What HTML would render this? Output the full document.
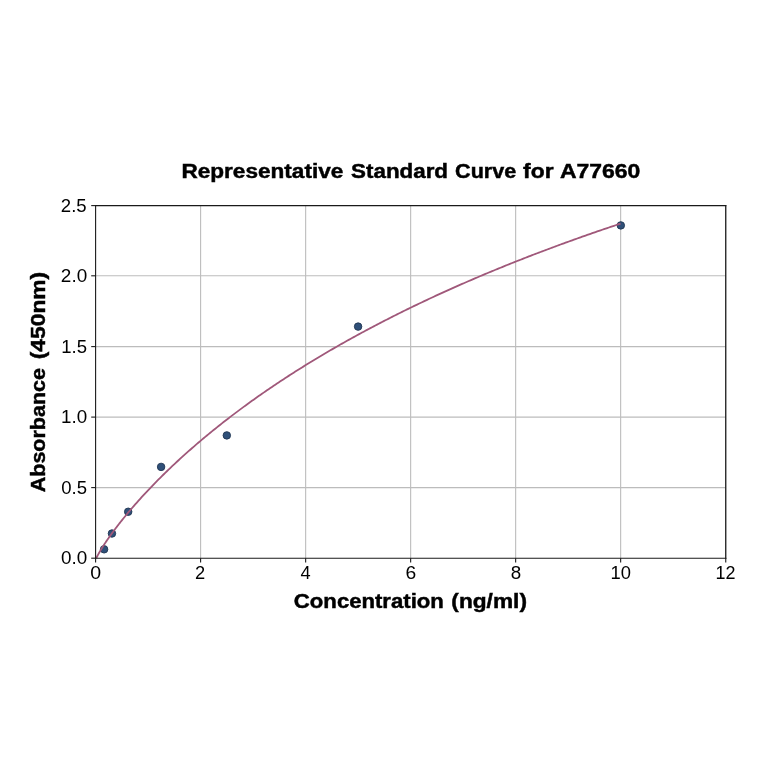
<!DOCTYPE html>
<html><head><meta charset="utf-8"><style>
html,body{margin:0;padding:0;background:#fff;}
svg{display:block;will-change:transform;}
text{font-family:"Liberation Sans",sans-serif;fill:#000;}
.g{stroke:#bcbcbc;stroke-width:1.1;}
.s{stroke:#1a1a1a;stroke-width:1.1;}
.sr{stroke-width:1.3;}
.t{stroke:#1a1a1a;stroke-width:1.1;}
.m{fill:#2f5079;stroke:#203552;stroke-width:0.9;}
.c{fill:none;stroke:#a0587a;stroke-width:1.8;}
.tk{font-size:17.6px;}
.ti{font-size:19.6px;font-weight:bold;stroke:#000;stroke-width:0.45px;}
.lb{font-size:19.6px;font-weight:bold;stroke:#000;stroke-width:0.45px;}
</style></head><body>
<svg width="764" height="764" viewBox="0 0 764 764">
<defs><clipPath id="ax"><rect x="95.6" y="205.64999999999998" width="630.0" height="352.5"/></clipPath></defs>
<rect width="764" height="764" fill="#fff"/>
<line x1="200.6" y1="205.64999999999998" x2="200.6" y2="558.15" class="g"/>
<line x1="305.65" y1="205.64999999999998" x2="305.65" y2="558.15" class="g"/>
<line x1="410.65" y1="205.64999999999998" x2="410.65" y2="558.15" class="g"/>
<line x1="515.65" y1="205.64999999999998" x2="515.65" y2="558.15" class="g"/>
<line x1="620.65" y1="205.64999999999998" x2="620.65" y2="558.15" class="g"/>
<line x1="95.6" y1="487.6" x2="725.6" y2="487.6" class="g"/>
<line x1="95.6" y1="417.1" x2="725.6" y2="417.1" class="g"/>
<line x1="95.6" y1="346.6" x2="725.6" y2="346.6" class="g"/>
<line x1="95.6" y1="275.8" x2="725.6" y2="275.8" class="g"/>
<circle cx="104.1" cy="549.3" r="3.75" class="m"/>
<circle cx="111.95" cy="533.5" r="3.75" class="m"/>
<circle cx="128.2" cy="511.75" r="3.75" class="m"/>
<circle cx="161.1" cy="466.9" r="3.75" class="m"/>
<circle cx="226.8" cy="435.4" r="3.75" class="m"/>
<circle cx="358.1" cy="326.6" r="3.75" class="m"/>
<circle cx="620.8" cy="225.4" r="3.75" class="m"/>
<path d="M95.60,559.97 L96.04,558.77 L96.49,557.79 L96.93,556.87 L97.38,555.99 L97.82,555.14 L98.27,554.32 L98.71,553.51 L99.16,552.73 L99.60,551.95 L100.05,551.19 L100.49,550.44 L100.94,549.70 L101.38,548.97 L101.83,548.24 L102.27,547.53 L102.72,546.82 L103.16,546.12 L103.61,545.43 L104.05,544.74 L104.50,544.06 L104.94,543.38 L105.39,542.71 L105.83,542.04 L106.28,541.38 L106.72,540.72 L107.17,540.07 L107.61,539.42 L108.06,538.78 L108.50,538.14 L108.95,537.50 L109.39,536.87 L109.84,536.24 L110.28,535.61 L110.73,534.99 L111.17,534.37 L111.62,533.76 L112.06,533.15 L112.51,532.54 L112.95,531.93 L113.40,531.33 L113.84,530.73 L114.29,530.13 L114.73,529.53 L115.18,528.94 L115.62,528.35 L116.07,527.76 L116.51,527.18 L116.96,526.60 L117.40,526.02 L117.85,525.44 L118.29,524.86 L118.74,524.29 L119.18,523.72 L119.63,523.15 L120.07,522.59 L120.52,522.02 L120.96,521.46 L121.41,520.90 L121.85,520.34 L123.52,518.27 L125.19,516.22 L126.85,514.20 L128.52,512.20 L130.19,510.23 L131.86,508.27 L133.53,506.34 L135.19,504.43 L136.86,502.54 L138.53,500.67 L140.20,498.81 L141.87,496.98 L143.53,495.16 L145.20,493.36 L146.87,491.57 L148.54,489.80 L150.21,488.04 L151.88,486.30 L153.54,484.58 L155.21,482.87 L156.88,481.17 L158.55,479.49 L160.22,477.81 L161.88,476.16 L163.55,474.51 L165.22,472.88 L166.89,471.26 L168.56,469.65 L170.22,468.05 L171.89,466.47 L173.56,464.89 L175.23,463.33 L176.90,461.78 L178.56,460.24 L180.23,458.70 L181.90,457.18 L183.57,455.67 L185.24,454.17 L186.90,452.68 L188.57,451.20 L190.24,449.73 L191.91,448.26 L193.58,446.81 L195.24,445.37 L196.91,443.93 L198.58,442.50 L200.25,441.08 L201.92,439.67 L203.58,438.27 L205.25,436.88 L206.92,435.49 L208.59,434.12 L210.26,432.75 L211.93,431.39 L213.59,430.03 L215.26,428.69 L216.93,427.35 L218.60,426.02 L220.27,424.70 L221.93,423.38 L223.60,422.07 L225.27,420.77 L226.94,419.48 L228.61,418.19 L230.27,416.91 L231.94,415.63 L233.61,414.37 L235.28,413.11 L236.95,411.85 L238.61,410.60 L240.28,409.36 L241.95,408.13 L243.62,406.90 L245.29,405.68 L246.95,404.46 L248.62,403.25 L250.29,402.05 L251.96,400.85 L253.63,399.65 L255.29,398.47 L256.96,397.29 L258.63,396.11 L260.30,394.94 L261.97,393.78 L263.64,392.62 L265.30,391.47 L266.97,390.32 L268.64,389.18 L270.31,388.04 L271.98,386.91 L273.64,385.79 L275.31,384.67 L276.98,383.55 L278.65,382.44 L280.32,381.33 L281.98,380.23 L283.65,379.14 L285.32,378.05 L286.99,376.96 L288.66,375.88 L290.32,374.81 L291.99,373.73 L293.66,372.67 L295.33,371.61 L297.00,370.55 L298.66,369.50 L300.33,368.45 L302.00,367.40 L303.67,366.37 L305.34,365.33 L307.00,364.30 L308.67,363.28 L310.34,362.25 L312.01,361.24 L313.68,360.22 L315.34,359.21 L317.01,358.21 L318.68,357.21 L320.35,356.21 L322.02,355.22 L323.69,354.23 L325.35,353.25 L327.02,352.27 L328.69,351.29 L330.36,350.32 L332.03,349.35 L333.69,348.39 L335.36,347.43 L337.03,346.47 L338.70,345.52 L340.37,344.57 L342.03,343.63 L343.70,342.68 L345.37,341.75 L347.04,340.81 L348.71,339.88 L350.37,338.95 L352.04,338.03 L353.71,337.11 L355.38,336.20 L357.05,335.28 L358.71,334.37 L360.38,333.47 L362.05,332.57 L363.72,331.67 L365.39,330.77 L367.05,329.88 L368.72,328.99 L370.39,328.10 L372.06,327.22 L373.73,326.34 L375.40,325.47 L377.06,324.59 L378.73,323.73 L380.40,322.86 L382.07,322.00 L383.74,321.14 L385.40,320.28 L387.07,319.43 L388.74,318.58 L390.41,317.73 L392.08,316.88 L393.74,316.04 L395.41,315.21 L397.08,314.37 L398.75,313.54 L400.42,312.71 L402.08,311.88 L403.75,311.06 L405.42,310.24 L407.09,309.42 L408.76,308.61 L410.42,307.79 L412.09,306.98 L413.76,306.18 L415.43,305.37 L417.10,304.57 L418.76,303.78 L420.43,302.98 L422.10,302.19 L423.77,301.40 L425.44,300.61 L427.11,299.83 L428.77,299.04 L430.44,298.26 L432.11,297.49 L433.78,296.71 L435.45,295.94 L437.11,295.17 L438.78,294.41 L440.45,293.64 L442.12,292.88 L443.79,292.12 L445.45,291.37 L447.12,290.61 L448.79,289.86 L450.46,289.11 L452.13,288.37 L453.79,287.62 L455.46,286.88 L457.13,286.14 L458.80,285.41 L460.47,284.67 L462.13,283.94 L463.80,283.21 L465.47,282.48 L467.14,281.76 L468.81,281.03 L470.47,280.31 L472.14,279.60 L473.81,278.88 L475.48,278.17 L477.15,277.46 L478.81,276.75 L480.48,276.04 L482.15,275.34 L483.82,274.63 L485.49,273.93 L487.16,273.24 L488.82,272.54 L490.49,271.85 L492.16,271.15 L493.83,270.46 L495.50,269.78 L497.16,269.09 L498.83,268.41 L500.50,267.73 L502.17,267.05 L503.84,266.37 L505.50,265.70 L507.17,265.03 L508.84,264.35 L510.51,263.69 L512.18,263.02 L513.84,262.35 L515.51,261.69 L517.18,261.03 L518.85,260.37 L520.52,259.72 L522.18,259.06 L523.85,258.41 L525.52,257.76 L527.19,257.11 L528.86,256.46 L530.52,255.82 L532.19,255.17 L533.86,254.53 L535.53,253.89 L537.20,253.25 L538.87,252.62 L540.53,251.98 L542.20,251.35 L543.87,250.72 L545.54,250.09 L547.21,249.47 L548.87,248.84 L550.54,248.22 L552.21,247.60 L553.88,246.98 L555.55,246.36 L557.21,245.74 L558.88,245.13 L560.55,244.52 L562.22,243.91 L563.89,243.30 L565.55,242.69 L567.22,242.08 L568.89,241.48 L570.56,240.88 L572.23,240.28 L573.89,239.68 L575.56,239.08 L577.23,238.49 L578.90,237.89 L580.57,237.30 L582.23,236.71 L583.90,236.12 L585.57,235.53 L587.24,234.95 L588.91,234.36 L590.57,233.78 L592.24,233.20 L593.91,232.62 L595.58,232.04 L597.25,231.47 L598.92,230.89 L600.58,230.32 L602.25,229.75 L603.92,229.18 L605.59,228.61 L607.26,228.04 L608.92,227.48 L610.59,226.91 L612.26,226.35 L613.93,225.79 L615.60,225.23 L617.26,224.67 L618.93,224.11 L620.60,223.56" class="c" clip-path="url(#ax)"/>
<line x1="95.0" y1="205.6" x2="726.3000000000001" y2="205.6" class="s"/>
<line x1="95.0" y1="558.2" x2="726.3000000000001" y2="558.2" class="s"/>
<line x1="95.6" y1="205.05" x2="95.6" y2="558.8" class="s"/>
<line x1="725.75" y1="205.05" x2="725.75" y2="558.8" class="s sr"/>
<line x1="95.6" y1="558.15" x2="95.6" y2="562.4499999999999" class="t"/>
<line x1="200.6" y1="558.15" x2="200.6" y2="562.4499999999999" class="t"/>
<line x1="305.65" y1="558.15" x2="305.65" y2="562.4499999999999" class="t"/>
<line x1="410.65" y1="558.15" x2="410.65" y2="562.4499999999999" class="t"/>
<line x1="515.65" y1="558.15" x2="515.65" y2="562.4499999999999" class="t"/>
<line x1="620.65" y1="558.15" x2="620.65" y2="562.4499999999999" class="t"/>
<line x1="725.75" y1="558.15" x2="725.75" y2="562.4499999999999" class="t"/>
<line x1="91.19999999999999" y1="558.2" x2="95.6" y2="558.2" class="t"/>
<line x1="91.19999999999999" y1="487.6" x2="95.6" y2="487.6" class="t"/>
<line x1="91.19999999999999" y1="417.1" x2="95.6" y2="417.1" class="t"/>
<line x1="91.19999999999999" y1="346.6" x2="95.6" y2="346.6" class="t"/>
<line x1="91.19999999999999" y1="275.8" x2="95.6" y2="275.8" class="t"/>
<line x1="91.19999999999999" y1="205.6" x2="95.6" y2="205.6" class="t"/>
<text x="181.44" y="178.30" class="ti" textLength="161.87" lengthAdjust="spacingAndGlyphs">Representative</text>
<text x="351.14" y="178.30" class="ti" textLength="96.91" lengthAdjust="spacingAndGlyphs">Standard</text>
<text x="455.11" y="178.30" class="ti" textLength="61.06" lengthAdjust="spacingAndGlyphs">Curve</text>
<text x="523.14" y="178.30" class="ti" textLength="30.39" lengthAdjust="spacingAndGlyphs">for</text>
<text x="559.93" y="178.30" class="ti" textLength="80.36" lengthAdjust="spacingAndGlyphs">A77660</text>
<text x="293.88" y="608.40" class="lb" textLength="149.97" lengthAdjust="spacingAndGlyphs">Concentration</text>
<text x="451.39" y="608.40" class="lb" textLength="75.56" lengthAdjust="spacingAndGlyphs">(ng/ml)</text>
<text transform="translate(45.20,492.29) rotate(-90)" class="lb" textLength="124.34" lengthAdjust="spacingAndGlyphs">Absorbance</text>
<text transform="translate(45.20,359.25) rotate(-90)" class="lb" textLength="87.45" lengthAdjust="spacingAndGlyphs">(450nm)</text>
<text x="90.21" y="578.70" class="tk" textLength="10.88" lengthAdjust="spacingAndGlyphs">0</text>
<text x="195.13" y="578.70" class="tk" textLength="10.18" lengthAdjust="spacingAndGlyphs">2</text>
<text x="300.61" y="578.70" class="tk" textLength="10.16" lengthAdjust="spacingAndGlyphs">4</text>
<text x="405.52" y="578.70" class="tk" textLength="10.73" lengthAdjust="spacingAndGlyphs">6</text>
<text x="510.75" y="578.70" class="tk" textLength="10.47" lengthAdjust="spacingAndGlyphs">8</text>
<text x="610.44" y="578.70" class="tk" textLength="20.43" lengthAdjust="spacingAndGlyphs">10</text>
<text x="715.60" y="578.70" class="tk" textLength="19.97" lengthAdjust="spacingAndGlyphs">12</text>
<text x="61.02" y="564.25" class="tk" textLength="26.23" lengthAdjust="spacingAndGlyphs">0.0</text>
<text x="61.23" y="493.65" class="tk" textLength="25.78" lengthAdjust="spacingAndGlyphs">0.5</text>
<text x="61.11" y="423.15" class="tk" textLength="26.14" lengthAdjust="spacingAndGlyphs">1.0</text>
<text x="61.20" y="352.65" class="tk" textLength="25.78" lengthAdjust="spacingAndGlyphs">1.5</text>
<text x="60.86" y="281.85" class="tk" textLength="26.32" lengthAdjust="spacingAndGlyphs">2.0</text>
<text x="60.89" y="211.65" class="tk" textLength="25.82" lengthAdjust="spacingAndGlyphs">2.5</text>
</svg>
</body></html>
